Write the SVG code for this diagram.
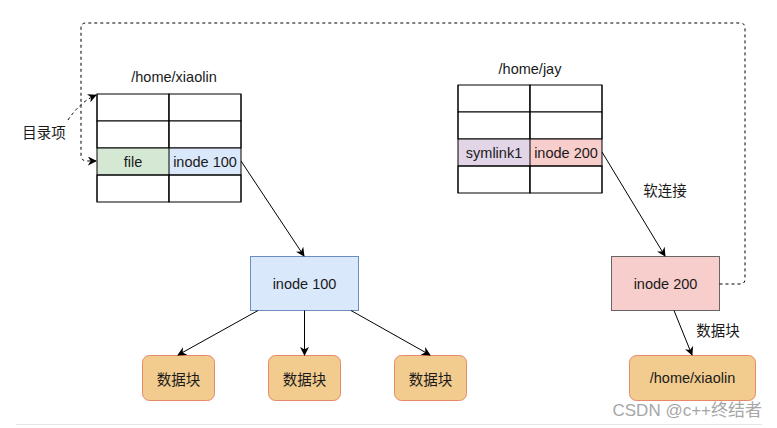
<svg xmlns="http://www.w3.org/2000/svg" width="777" height="428" viewBox="0 0 777 428">
<defs>
<marker id="arr" viewBox="0 0 10 10" refX="9" refY="5" markerWidth="9" markerHeight="9" markerUnits="userSpaceOnUse" orient="auto">
<path d="M0,0 L10,5 L0,10 L3,5 Z" fill="#000"/>
</marker>
<style>
text{font-family:"Liberation Sans","Noto Sans CJK SC",sans-serif;font-size:14.5px;fill:#1a1a1a;text-anchor:middle;dominant-baseline:central}
.cjk{font-family:"Noto Sans CJK SC","Liberation Sans",sans-serif;font-size:14.5px}
.cell{stroke:#000;stroke-width:1}
.e{fill:none;stroke:#000;stroke-width:1;marker-end:url(#arr)}
.d{fill:none;stroke:#000;stroke-width:1;stroke-dasharray:3 3}
.blk{fill:#f2cb8e;stroke:#e8886a;stroke-width:1}
</style>
</defs>
<rect width="777" height="428" fill="#fff"/>

<g id="table-xiaolin">
<text x="174" y="77">/home/xiaolin</text>
<rect class="cell" x="97" y="94" width="72" height="27" fill="#fff"/>
<rect class="cell" x="169" y="94" width="72" height="27" fill="#fff"/>
<rect class="cell" x="97" y="121" width="72" height="27" fill="#fff"/>
<rect class="cell" x="169" y="121" width="72" height="27" fill="#fff"/>
<rect x="97" y="148" width="72" height="27" fill="#d5e8d4"/>
<rect x="169" y="148" width="72" height="27" fill="#dae8fc"/>
<rect class="cell" x="97" y="175" width="72" height="27" fill="#fff"/>
<rect class="cell" x="169" y="175" width="72" height="27" fill="#fff"/>
<line x1="97" y1="148" x2="241" y2="148" stroke="#000"/>
<line x1="97" y1="175" x2="241" y2="175" stroke="#000"/>
<line x1="169" y1="94" x2="169" y2="202" stroke="#000"/>
<line x1="97" y1="94" x2="97" y2="202" stroke="#000"/>
<line x1="241" y1="94" x2="241" y2="202" stroke="#000"/>
<text x="133" y="161.5">file</text>
<text x="205" y="161.5">inode 100</text>
</g>

<g id="table-jay">
<text x="530" y="69">/home/jay</text>
<rect class="cell" x="458" y="85" width="72" height="27" fill="#fff"/>
<rect class="cell" x="530" y="85" width="72" height="27" fill="#fff"/>
<rect class="cell" x="458" y="112" width="72" height="27" fill="#fff"/>
<rect class="cell" x="530" y="112" width="72" height="27" fill="#fff"/>
<rect x="458" y="139" width="72" height="27" fill="#e1d5e7"/>
<rect x="530" y="139" width="72" height="27" fill="#f8cecc"/>
<rect class="cell" x="458" y="166" width="72" height="27" fill="#fff"/>
<rect class="cell" x="530" y="166" width="72" height="27" fill="#fff"/>
<line x1="458" y1="139" x2="602" y2="139" stroke="#000"/>
<line x1="458" y1="166" x2="602" y2="166" stroke="#000"/>
<line x1="530" y1="85" x2="530" y2="193" stroke="#000"/>
<line x1="458" y1="85" x2="458" y2="193" stroke="#000"/>
<line x1="602" y1="85" x2="602" y2="193" stroke="#000"/>
<text x="494" y="152.5">symlink1</text>
<text x="566" y="152.5">inode 200</text>
</g>

<g id="label-dir">
<text class="cjk" x="44" y="131">目录项</text>
</g>

<g id="inode100">
<rect x="250.5" y="256.5" width="108" height="54" fill="#dae8fc" stroke="#6c8ebf"/>
<text x="304.5" y="283.5">inode 100</text>
</g>

<g id="block1">
<rect class="blk" x="142.5" y="355.5" width="72" height="45" rx="7"/>
<text class="cjk" x="178.5" y="378">数据块</text>
</g>
<g id="block2">
<rect class="blk" x="268.5" y="355.5" width="72" height="45" rx="7"/>
<text class="cjk" x="304.5" y="378">数据块</text>
</g>
<g id="block3">
<rect class="blk" x="394.5" y="355.5" width="72" height="45" rx="7"/>
<text class="cjk" x="430.5" y="378">数据块</text>
</g>

<g id="inode200">
<rect x="611.5" y="256.5" width="108" height="54" fill="#f8cecc" stroke="#666"/>
<text x="665.5" y="283.5">inode 200</text>
</g>

<g id="target-xiaolin">
<rect class="blk" x="629.5" y="355.5" width="126" height="45" rx="7"/>
<text x="692.5" y="378">/home/xiaolin</text>
</g>

<g id="connectors">
<path class="e" d="M241,161 L304,256"/>
<path class="e" d="M258,310.5 L178,355"/>
<path class="e" d="M304.5,310.5 L304.5,355"/>
<path class="e" d="M351,310.5 L430,355"/>
<path class="e" d="M602,152 L665,256"/>
<text class="cjk" x="665" y="189">软连接</text>
<path class="e" d="M674,310.5 L692,355"/>
<text class="cjk" x="718" y="329">数据块</text>
<path class="d" d="M719.5,284 L740,284 Q745,284 745,279 L745,28 Q745,23 740,23 L86,23 Q81,23 81,28 L81,155 Q81,161 87,161 L96,161" marker-end="url(#arr)"/>
<path class="d" d="M68,120 Q80,102 96,95" marker-end="url(#arr)"/>
</g>

<text x="762" y="410" style="font-size:17px;fill:#a6a6a6;text-anchor:end;font-family:'Liberation Sans','Noto Sans CJK SC',sans-serif">CSDN @c++终结者</text>
<line x1="16" y1="424.5" x2="762" y2="424.5" stroke="#e6e6e6"/>
</svg>
